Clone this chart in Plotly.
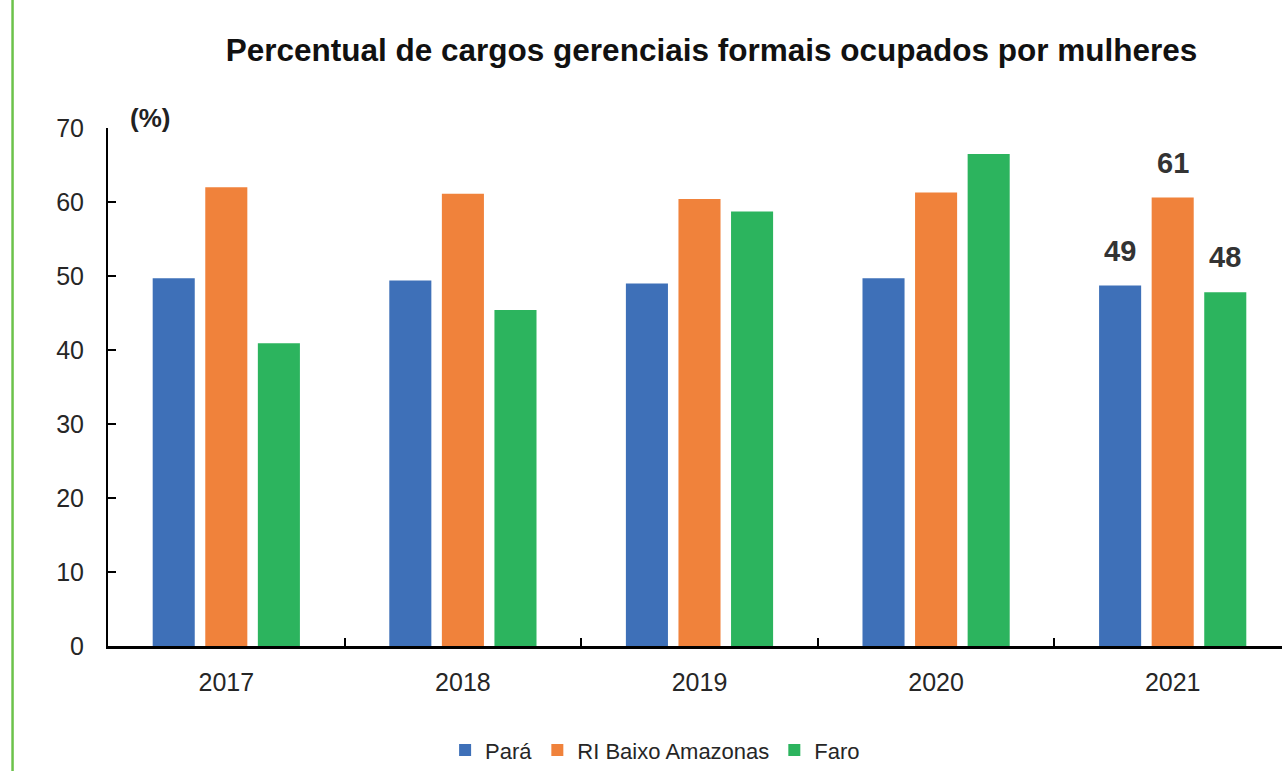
import plotly.graph_objects as go

years = ["2017", "2018", "2019", "2020", "2021"]
para = [49.7, 49.4, 49.0, 49.7, 48.7]
ri_baixo = [62.0, 61.1, 60.4, 61.3, 60.6]
faro = [40.9, 45.4, 58.7, 66.5, 47.8]
series_names = ["Pará", "RI Baixo Amazonas", "Faro"]
colors = ["#3E70B8", "#F0823B", "#2CB45E"]
y_ticks = [0, 10, 20, 30, 40, 50, 60, 70]
label_year = "2021"

FONT = "Liberation Sans, Arial, sans-serif"
TXT = "#262626"
BARGAP = 1/3
GROUPGAP = 0.2

fig = go.Figure()
for name, vals, col in zip(series_names, [para, ri_baixo, faro], colors):
    fig.add_trace(go.Bar(x=years, y=vals, name=name, marker=dict(color=col, line=dict(width=0))))

# data labels for the last year
slot = (1 - BARGAP) / 3
idx = years.index(label_year)
for i, vals in enumerate([para, ri_baixo, faro]):
    v = vals[idx]
    fig.add_annotation(x=idx + (i - 1) * slot, y=v, xref="x", yref="y",
                       text=f"<b>{round(v):d}</b>", showarrow=False,
                       yanchor="bottom", yshift=17,
                       font=dict(family=FONT, size=29, color="#333333"))

fig.add_annotation(x=0.017, y=1, xref="paper", yref="paper", text="<b>(%)</b>",
                   showarrow=False, xanchor="left", yanchor="middle", yshift=10,
                   font=dict(family=FONT, size=26, color="#222222"))

# decorative green border line at left
fig.add_shape(type="line", xref="paper", yref="paper", x0=-0.0813, x1=-0.0813,
              y0=-0.3, y1=1.3, line=dict(color="#6CC24A", width=2.5))

fig.update_layout(
    width=1282, height=771,
    paper_bgcolor="white", plot_bgcolor="white",
    margin=dict(l=108, r=0, t=128, b=125),
    barmode="group", bargap=BARGAP, bargroupgap=GROUPGAP,
    title=dict(text="<b>Percentual de cargos gerenciais formais ocupados por mulheres</b>",
               x=0.555, xref="container", xanchor="center", y=0.935, yref="container",
               yanchor="middle", font=dict(family=FONT, size=31.5, color="#111111")),
    legend=dict(orientation="h", x=0.511, xref="container", xanchor="center",
                y=0.027, yref="container", yanchor="middle",
                font=dict(family=FONT, size=22, color=TXT), itemwidth=30,
                traceorder="normal"),
    showlegend=True,
)
fig.update_xaxes(type="category", range=[-0.5, 4.462], showline=True, linecolor="black",
                 linewidth=3, ticks="inside", tickson="boundaries", ticklen=8,
                 tickwidth=2, tickcolor="black", showgrid=False,
                 tickfont=dict(family=FONT, size=25, color=TXT), ticklabelstandoff=12)
fig.update_yaxes(range=[0, 70], tickvals=y_ticks, showline=True, linecolor="black",
                 linewidth=2, ticks="inside", ticklen=8, tickwidth=2, tickcolor="black",
                 showgrid=False, zeroline=False,
                 tickfont=dict(family=FONT, size=25, color=TXT), ticklabelstandoff=17)

fig.write_html("out.html", config={"displayModeBar": False},
               post_script="document.body.style.margin='0px';")
